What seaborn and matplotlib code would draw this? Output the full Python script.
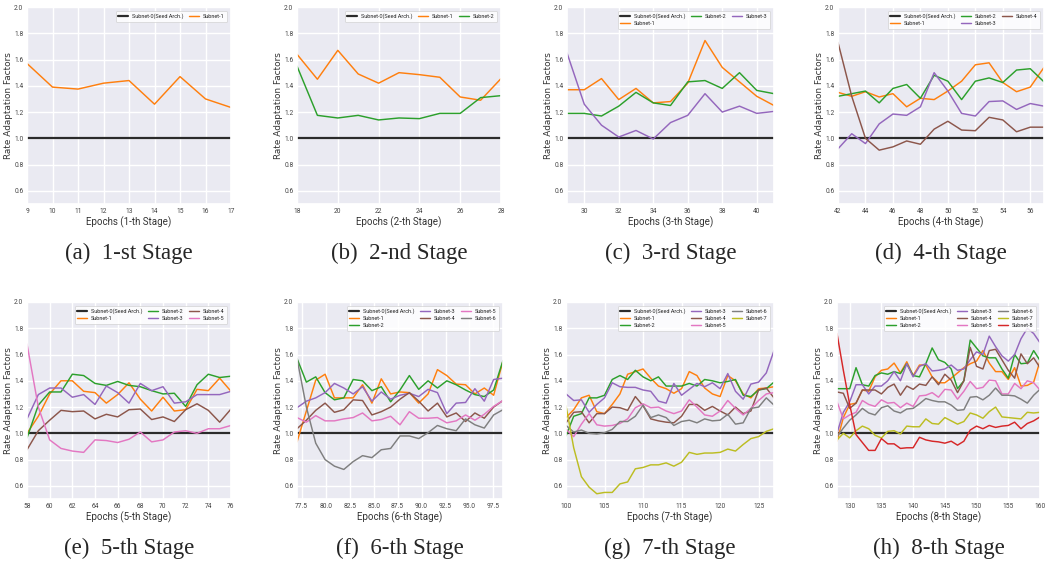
import numpy as np
import matplotlib
matplotlib.use("Agg")
import matplotlib.pyplot as plt
import seaborn as sns

# ---------------- data ----------------
SEED = 1.0
SEED_LABEL = "Subnet-0(Seed Arch.)"

a_epochs = list(range(9, 18))
a_s1 = [1.57, 1.39, 1.375, 1.42, 1.44, 1.26, 1.47, 1.30, 1.235]

b_epochs = list(range(18, 29))
b_s1 = [1.64, 1.45, 1.67, 1.49, 1.42, 1.50, 1.485, 1.465, 1.315, 1.29, 1.455]
b_s2 = [1.55, 1.175, 1.155, 1.175, 1.14, 1.155, 1.15, 1.19, 1.19, 1.31, 1.325]

c_epochs = list(range(29, 42))
c_s1 = [1.37, 1.37, 1.455, 1.295, 1.38, 1.27, 1.28, 1.42, 1.745, 1.54, 1.43, 1.32, 1.25]
c_s2 = [1.19, 1.19, 1.17, 1.245, 1.35, 1.27, 1.25, 1.43, 1.44, 1.38, 1.50, 1.365, 1.34]
c_s3 = [1.65, 1.26, 1.10, 1.01, 1.06, 0.995, 1.12, 1.175, 1.34, 1.20, 1.245, 1.19, 1.205]

d_epochs = list(range(42, 58))
d_s1 = [1.35, 1.32, 1.355, 1.315, 1.34, 1.24, 1.305, 1.295, 1.36, 1.435, 1.56, 1.575, 1.425, 1.355, 1.39, 1.54]
d_s2 = [1.32, 1.34, 1.36, 1.27, 1.38, 1.41, 1.305, 1.48, 1.435, 1.295, 1.435, 1.46, 1.425, 1.52, 1.53, 1.43]
d_s3 = [0.92, 1.035, 0.96, 1.11, 1.185, 1.175, 1.24, 1.50, 1.36, 1.19, 1.17, 1.28, 1.285, 1.22, 1.265, 1.245]
d_s4 = [1.73, 1.32, 1.00, 0.91, 0.935, 0.98, 0.955, 1.07, 1.13, 1.063, 1.058, 1.16, 1.14, 1.05, 1.085, 1.085]

e_epochs = list(range(58, 77))
e_s1 = [1.00, 1.13, 1.30, 1.40, 1.40, 1.32, 1.31, 1.23, 1.295, 1.385, 1.26, 1.17, 1.275, 1.17, 1.18, 1.335, 1.325, 1.42, 1.32]
e_s2 = [0.965, 1.215, 1.315, 1.315, 1.45, 1.44, 1.38, 1.365, 1.395, 1.365, 1.355, 1.325, 1.30, 1.305, 1.205, 1.37, 1.45, 1.425, 1.435]
e_s3 = [1.11, 1.295, 1.345, 1.345, 1.275, 1.295, 1.22, 1.36, 1.31, 1.23, 1.38, 1.325, 1.355, 1.23, 1.24, 1.295, 1.295, 1.295, 1.32]
e_s4 = [0.875, 1.02, 1.10, 1.175, 1.165, 1.17, 1.11, 1.145, 1.125, 1.18, 1.185, 1.105, 1.125, 1.09, 1.18, 1.225, 1.175, 1.085, 1.185]
e_s5 = [1.68, 1.20, 0.95, 0.885, 0.865, 0.855, 0.95, 0.945, 0.93, 0.955, 1.01, 0.935, 0.95, 1.01, 1.02, 1.00, 1.035, 1.035, 1.06]

f_epochs = list(np.linspace(77.0, 98.5, 23))
f_s1 = [0.935, 1.17, 1.405, 1.45, 1.27, 1.27, 1.27, 1.37, 1.23, 1.415, 1.30, 1.315, 1.31, 1.23, 1.30, 1.485, 1.44, 1.375, 1.37, 1.30, 1.345, 1.29, 1.55]
f_s2 = [1.57, 1.39, 1.43, 1.31, 1.255, 1.27, 1.41, 1.40, 1.325, 1.355, 1.24, 1.33, 1.44, 1.335, 1.40, 1.345, 1.40, 1.37, 1.33, 1.295, 1.28, 1.33, 1.555]
f_s3 = [1.195, 1.245, 1.27, 1.31, 1.38, 1.345, 1.30, 1.355, 1.245, 1.315, 1.26, 1.29, 1.305, 1.28, 1.335, 1.31, 1.15, 1.23, 1.235, 1.34, 1.245, 1.41, 1.42]
f_s4 = [1.035, 1.10, 1.175, 1.23, 1.16, 1.18, 1.255, 1.25, 1.14, 1.165, 1.20, 1.26, 1.31, 1.245, 1.17, 1.23, 1.125, 1.155, 1.09, 1.155, 1.115, 1.20, 1.25]
f_s5 = [1.12, 1.085, 1.135, 1.095, 1.095, 1.11, 1.12, 1.155, 1.095, 1.105, 1.13, 1.065, 1.165, 1.115, 1.115, 1.12, 1.08, 1.095, 1.14, 1.10, 1.145, 1.205, 1.25]
f_s6 = [1.57, 1.20, 0.925, 0.80, 0.75, 0.725, 0.785, 0.83, 0.815, 0.875, 0.885, 0.98, 0.98, 0.96, 1.005, 1.06, 1.035, 1.02, 1.11, 1.065, 1.04, 1.14, 1.18]

g_epochs = list(range(100, 128))
g_s1 = [1.12, 1.18, 1.27, 1.29, 1.165, 1.15, 1.22, 1.30, 1.45, 1.47, 1.49, 1.42, 1.36, 1.34, 1.305, 1.34, 1.47, 1.44, 1.345, 1.30, 1.28, 1.44, 1.40, 1.30, 1.27, 1.34, 1.345, 1.355]
g_s2 = [0.98, 1.13, 1.15, 1.27, 1.27, 1.29, 1.41, 1.44, 1.41, 1.48, 1.43, 1.40, 1.43, 1.36, 1.36, 1.36, 1.38, 1.36, 1.41, 1.40, 1.385, 1.395, 1.41, 1.29, 1.28, 1.33, 1.34, 1.39]
g_s3 = [1.30, 1.25, 1.255, 1.16, 1.22, 1.27, 1.385, 1.355, 1.35, 1.35, 1.33, 1.32, 1.245, 1.23, 1.38, 1.29, 1.335, 1.38, 1.355, 1.385, 1.34, 1.455, 1.32, 1.26, 1.375, 1.39, 1.46, 1.63]
g_s4 = [1.08, 1.16, 1.165, 1.08, 1.15, 1.15, 1.20, 1.195, 1.175, 1.28, 1.21, 1.11, 1.095, 1.085, 1.08, 1.13, 1.22, 1.22, 1.175, 1.205, 1.17, 1.14, 1.20, 1.15, 1.17, 1.33, 1.345, 1.27]
g_s5 = [1.03, 0.975, 1.07, 1.15, 1.065, 1.055, 1.06, 1.075, 1.11, 1.195, 1.225, 1.195, 1.20, 1.17, 1.15, 1.17, 1.255, 1.20, 1.14, 1.13, 1.17, 1.25, 1.19, 1.14, 1.19, 1.25, 1.30, 1.31]
g_s6 = [1.06, 1.01, 1.025, 1.00, 0.995, 1.005, 1.03, 1.09, 1.09, 1.13, 1.215, 1.12, 1.14, 1.12, 1.06, 1.09, 1.10, 1.08, 1.11, 1.095, 1.10, 1.145, 1.07, 1.08, 1.19, 1.20, 1.27, 1.215]
g_s7 = [1.21, 0.89, 0.67, 0.59, 0.54, 0.55, 0.55, 0.615, 0.63, 0.73, 0.74, 0.76, 0.76, 0.775, 0.75, 0.78, 0.855, 0.84, 0.85, 0.85, 0.855, 0.88, 0.865, 0.915, 0.96, 0.975, 1.015, 1.035]

h_epochs = list(range(128, 161))
h_s1 = [0.94, 1.12, 1.22, 1.23, 1.33, 1.32, 1.43, 1.48, 1.49, 1.535, 1.46, 1.545, 1.44, 1.52, 1.52, 1.43, 1.385, 1.385, 1.42, 1.46, 1.50, 1.53, 1.55, 1.63, 1.535, 1.47, 1.47, 1.41, 1.50, 1.36, 1.365, 1.39, 1.55]
h_s2 = [1.34, 1.34, 1.34, 1.50, 1.37, 1.36, 1.44, 1.46, 1.45, 1.47, 1.455, 1.53, 1.44, 1.43, 1.53, 1.65, 1.56, 1.54, 1.49, 1.34, 1.40, 1.71, 1.65, 1.59, 1.575, 1.575, 1.49, 1.42, 1.60, 1.53, 1.535, 1.63, 1.555]
h_s3 = [1.00, 1.16, 1.24, 1.37, 1.37, 1.30, 1.36, 1.36, 1.40, 1.47, 1.40, 1.53, 1.43, 1.51, 1.53, 1.475, 1.48, 1.49, 1.52, 1.48, 1.49, 1.56, 1.62, 1.60, 1.74, 1.66, 1.59, 1.55, 1.60, 1.72, 1.80, 1.76, 1.69]
h_s4 = [1.315, 1.305, 1.19, 1.23, 1.33, 1.33, 1.33, 1.30, 1.35, 1.375, 1.29, 1.36, 1.335, 1.375, 1.365, 1.43, 1.37, 1.45, 1.405, 1.31, 1.40, 1.655, 1.51, 1.49, 1.63, 1.64, 1.56, 1.48, 1.42, 1.605, 1.53, 1.575, 1.50]
h_s5 = [1.24, 1.11, 1.14, 1.16, 1.25, 1.22, 1.205, 1.255, 1.23, 1.235, 1.195, 1.23, 1.205, 1.285, 1.29, 1.31, 1.275, 1.335, 1.33, 1.26, 1.32, 1.395, 1.34, 1.35, 1.405, 1.40, 1.30, 1.30, 1.38, 1.34, 1.40, 1.385, 1.33]
h_s6 = [0.975, 1.04, 1.10, 1.14, 1.19, 1.155, 1.14, 1.195, 1.21, 1.17, 1.155, 1.185, 1.19, 1.225, 1.265, 1.25, 1.24, 1.24, 1.215, 1.175, 1.18, 1.275, 1.28, 1.255, 1.29, 1.345, 1.29, 1.29, 1.285, 1.26, 1.23, 1.29, 1.335]
h_s7 = [0.95, 1.00, 0.965, 1.02, 1.055, 1.035, 0.985, 0.965, 1.015, 1.02, 0.995, 1.055, 1.05, 1.05, 1.11, 1.075, 1.07, 1.12, 1.095, 1.07, 1.09, 1.155, 1.14, 1.115, 1.165, 1.20, 1.125, 1.12, 1.115, 1.11, 1.16, 1.155, 1.16]
h_s8 = [1.76, 1.48, 1.22, 0.99, 0.93, 0.87, 0.87, 0.96, 0.92, 0.92, 0.885, 0.89, 0.89, 0.97, 0.95, 0.94, 0.935, 0.925, 0.94, 0.91, 0.94, 1.025, 1.055, 1.035, 1.06, 1.045, 1.055, 1.06, 1.085, 1.035, 1.075, 1.095, 1.125]

captions = ["(a)  1-st Stage", "(b)  2-nd Stage", "(c)  3-rd Stage", "(d)  4-th Stage",
            "(e)  5-th Stage", "(f)  6-th Stage", "(g)  7-th Stage", "(h)  8-th Stage"]
xlabels = ["Epochs (1-th Stage)", "Epochs (2-th Stage)", "Epochs (3-th Stage)", "Epochs (4-th Stage)",
           "Epochs (5-th Stage)", "Epochs (6-th Stage)", "Epochs (7-th Stage)", "Epochs (8-th Stage)"]
ylabel = "Rate Adaptation Factors"
yticks = [0.6, 0.8, 1.0, 1.2, 1.4, 1.6, 1.8, 2.0]

# ---------------- style ----------------
sns.set_theme(style="darkgrid")
NARROW = ["Liberation Sans Narrow", "Roboto", "DejaVu Sans"]
plt.rcParams["font.family"] = ["DejaVu Sans"]

colors = ["#ff7f0e", "#2ca02c", "#9467bd", "#8c564b", "#e377c2", "#7f7f7f", "#bcbd22", "#d62728"]
seed_color = "#2b2b2b"

W, H = 1045, 565
fig = plt.figure(figsize=(W / 100, H / 100), dpi=100)

# pixel rects: left, top, right, bottom
rects = [(27, 7, 231, 204), (297, 7, 501, 204), (567, 7, 774, 204), (838, 7, 1044, 204),
         (27, 302, 231, 499), (297, 302, 503, 499), (566, 302, 774, 499), (837, 302, 1040, 499)]

panels = [
    (a_epochs, [a_s1], 1, None, 2),
    (b_epochs, [b_s1, b_s2], 2, None, 3),
    (c_epochs, [c_s1, c_s2, c_s3], 2, None, 3),
    (d_epochs, [d_s1, d_s2, d_s3, d_s4], 2, None, 3),
    (e_epochs, [e_s1, e_s2, e_s3, e_s4, e_s5], 2, None, 3),
    (f_epochs, [f_s1, f_s2, f_s3, f_s4, f_s5, f_s6], 2.5, 77.5, 3),
    (g_epochs, [g_s1, g_s2, g_s3, g_s4, g_s5, g_s6, g_s7], 5, 100, 3),
    (h_epochs, [h_s1, h_s2, h_s3, h_s4, h_s5, h_s6, h_s7, h_s8], 5, 130, 3),
]

for i, (ep, series, step, start, ncol) in enumerate(panels):
    l, t, r, b = rects[i]
    ax = fig.add_axes([l / W, 1 - b / H, (r - l) / W, (b - t) / H])
    ax.axhline(SEED, color=seed_color, lw=1.6, label=SEED_LABEL)
    for k, vals in enumerate(series):
        sns.lineplot(x=ep, y=vals, ax=ax, color=colors[k], lw=1.05, label=f"Subnet-{k + 1}")
    ax.set_xlim(ep[0], ep[-1])
    ax.set_ylim(0.5, 2.0)
    ax.set_yticks(yticks)
    ax.set_yticklabels([f"{v:.1f}" for v in yticks])
    s0 = ep[0] if start is None else start
    xt = list(np.arange(s0, ep[-1] + 1e-6, step))
    if s0 % 2 and step == 2:
        xt = list(np.arange(s0 + 1, ep[-1] + 1e-6, step))
    ax.set_xticks(xt)
    if step == 2.5:
        ax.set_xticklabels([f"{v:.1f}" for v in xt])
    else:
        ax.set_xticklabels([f"{int(round(v))}" for v in xt])
    for lab in ax.get_xticklabels() + ax.get_yticklabels():
        lab.set_family(NARROW)
        lab.set_fontsize(4.8)
        lab.set_color("#444444")
    ax.tick_params(axis="both", length=0)
    ax.tick_params(axis="x", pad=2.6)
    ax.tick_params(axis="y", pad=2.6)
    ax.set_xlabel(xlabels[i], fontsize=7.0, family=NARROW, labelpad=1.5, color="#333333")
    ax.set_ylabel(ylabel, fontsize=6.4, color="#333333")
    ax.yaxis.set_label_coords(-14.0 / (r - l), 0.5)
    leg = ax.legend(loc="upper right", ncol=ncol, fontsize=4.0, frameon=True, facecolor="white",
                    framealpha=0.85, edgecolor="#cccccc", handlelength=1.8, handletextpad=0.6,
                    columnspacing=1.1, borderpad=0.5, labelspacing=0.35, borderaxespad=0.7)
    for txt in leg.get_texts():
        txt.set_family(NARROW)
    leg.get_frame().set_linewidth(0.5)
    cx = (l + r) / 2 / W
    cy = 1 - (253 if i < 4 else 548) / H
    fig.text(cx, cy, captions[i], ha="center", va="center", fontsize=16.5, family="Liberation Serif")

fig.savefig("out.png", dpi=100)
